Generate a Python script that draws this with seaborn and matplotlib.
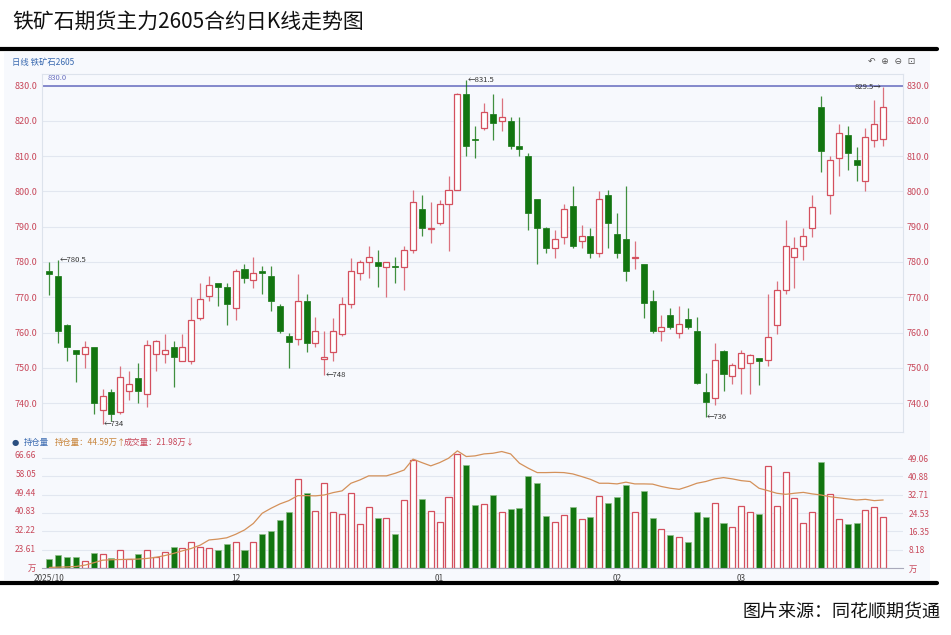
import matplotlib
matplotlib.use("Agg")
import matplotlib.pyplot as plt
import seaborn as sns
import numpy as np
import pandas as pd

sns.set_style("white")
plt.rcParams['font.family'] = ['Noto Sans CJK SC', 'DejaVu Sans']

opens = [777.5,776,762,755,754,756,738,743,737.5,743.5,747,742.5,754,754,756,752,752,764,770.5,774,
         773,767,778,775,777.5,776,767.5,759,758.3,769,757,752.5,754.5,759.5,768,777,780,780,778.5,779,
         778.5,783.5,795,789.3,791,796.5,800.5,827.5,814.7,818,822,820,820,813,810,798,789.5,784,787,796,
         786,787.5,782.5,799,788,786.5,781,779.5,769,760.5,765,760,763.7,760.5,743,741.3,754.8,747.8,750,751.5,
         752.8,752.3,762,772,781.5,784.5,789.5,824,799,809.5,816,809,803,814.5,815]
closes = [776.5,760.4,755.9,753.8,756,740,742,737,747.5,745.5,743.5,756.5,757.5,755,753,756,763.5,769.5,773.5,773,
          768,777.5,775.5,777,777,769,760.3,757.3,769,757,760.5,753,760.5,768,777.5,780,781.5,779,780,778.5,
          783.5,797,789.5,789.5,796.5,800.5,827.5,813,814.5,822.5,819.5,821,813,812,794,789.5,784,786.5,795,784.5,
          787.5,782.5,798,791,782.5,777.5,781.5,768.5,760.5,761.5,761.5,762.5,761.7,745.8,740.3,752.3,748.3,750.8,754.3,753.5,
          751.8,758.8,772,784.5,784,787.5,795.5,811.5,809,816.5,811,807.5,815.5,819,824]
highs = [780,780.5,762.5,755,757.5,756,744,744,750.5,749,751.5,758,758,759.5,757.5,759.5,770,774,776,774,
         774,778,779.5,781.5,779,779,768,760,776.5,771,764.5,760.5,764,770,781,780.5,784.5,783.5,780,781.5,
         784.5,800.5,799,797,797.5,804.5,828,831.5,818.5,825,827.5,826.5,821,821,811,798,790,789,796.5,801.5,
         790.5,789.5,800,800.5,794,801.5,786,779.5,772,765,767,767.5,767,764.5,748.5,757,755,751.5,755,754,
         752.8,771,774.5,792,787,789.5,799,827,810,819,818.5,812.5,818,826,829.5]
lows = [770.6,757,752,746,750,737,734,735,737,741,740,739,749,751.5,744.5,752,751,763.5,769,767.5,
        762,763.5,774,772.5,771,766,760,750,756.5,754.5,756,748,752,759,767,775,775.5,773,770,774,
        772,782.5,787.5,785.5,790.5,783,800.5,810,809.5,817.5,814.5,817,812,810,789,779.5,782.5,781,785,784,
        784,781,781.5,784,781,774.5,778,764,760,757.5,761,758.5,761,745.5,736,739.5,743.5,745.5,742.5,742.5,
        745,750.5,759.5,771,772.5,780.5,787,805.5,793.5,804.5,806,803,800,812.5,813]
volume = [3.8,6.0,5.0,4.7,3.2,6.7,6.4,4.5,8.2,3.8,6.3,8.2,5.1,7.0,9.6,8.9,11.5,9.6,8.9,7.9,
          10.9,11.5,7.9,11.7,15.3,16.6,21.3,25.0,39.7,33.7,25.3,38.1,25.0,23.9,33.6,19.6,27.4,22.3,22.3,15.2,
          30.5,48.3,31.0,25.4,20.4,31.8,50.9,46.1,28.2,28.5,32.6,24.8,26.3,26.6,41.3,38.0,23.4,20.4,23.6,27.3,
          21.9,22.6,32.0,28.9,31.7,37.1,25.0,34.6,22.3,17.4,14.9,13.9,11.5,25.0,22.9,28.9,19.9,18.2,27.9,25.0,
          24.1,45.4,27.6,42.8,31.1,20.1,25.0,47.2,33.1,21.8,19.6,20.1,25.7,27.3,22.9]
open_interest = [14.85,15.0,15.1,15.3,15.9,17.0,18.2,18.4,18.5,18.6,18.7,19.0,19.5,20.3,21.3,22.5,23.6,25.1,27.5,27.9,
                 28.5,30.1,32.1,35.1,39.8,42.1,44.1,45.6,47.9,47.9,47.8,48.2,49.3,50.1,53.6,55.1,57.0,57.0,57.0,58.2,
                 59.7,64.7,63.1,61.6,63.1,65.1,68.5,65.9,66.2,67.1,67.4,68.2,67.1,62.8,60.5,58.5,58.5,58.6,58.5,57.9,
                 56.7,55.4,53.6,53.6,53.3,54.1,53.3,53.3,53.2,52.1,51.3,50.8,52.1,53.6,54.4,55.6,56.2,55.6,54.8,54.4,
                 51.3,50.2,49.0,48.5,49.0,49.4,48.7,48.2,47.4,46.9,46.4,45.9,46.2,45.6,45.9]
month_ticks = [0, 21, 44, 64, 78]
month_labels = ["2025/10", "12", "01", "02", "03"]
price_ticks = [740, 750, 760, 770, 780, 790, 800, 810, 820, 830]
oi_ticks = [23.61, 32.22, 40.83, 49.44, 58.05, 66.66]
vol_ticks = [8.18, 16.35, 24.53, 32.71, 40.88, 49.06]

df = pd.DataFrame({"i": np.arange(len(opens)), "o": opens, "c": closes, "h": highs, "l": lows,
                   "v": volume, "oi": open_interest})
df["up"] = df["c"] >= df["o"]

RED = "#d4505e"
GREEN = "#127510"
BG = "#f7f9fd"
GRID = "#e2e7f0"
TICK = "#c8485a"

W, H = 951, 635
fig = plt.figure(figsize=(W/100, H/100), dpi=100)
def rect(l, t, r, b):
    return [l/W, 1-b/H, (r-l)/W, (b-t)/H]

fig.text(12/W, 1-22/H, "铁矿石期货主力2605合约日K线走势图", fontsize=15, va="center", ha="left", color="#111")
fig.add_artist(plt.Line2D([0, 937/W], [1-49/H, 1-49/H], color="black", lw=3))
fig.add_artist(plt.Line2D([0, 937/W], [1-583/H, 1-583/H], color="black", lw=3))
fig.text(940/W, 1-612/H, "图片来源：同花顺期货通", fontsize=13, va="center", ha="right", color="#111")
bgax = fig.add_axes(rect(4, 52, 930, 580))
bgax.set_facecolor(BG); bgax.set_xticks([]); bgax.set_yticks([])
for s in bgax.spines.values(): s.set_visible(False)
fig.text(12/W, 1-62/H, "日线 铁矿石2605", fontsize=6, color="#3a6ab0", va="center")
fig.text(915/W, 1-62/H, "↶  ⊕  ⊖  ⊡", fontsize=6.5, color="#555", va="center", ha="right",
         family=['DejaVu Sans'])

xlim = (-0.86, 96.2)
ax = fig.add_axes(rect(41.7, 74, 902.7, 432))
ax.set_facecolor(BG)
ax.set_xlim(*xlim)
ax.set_ylim(731.8, 833.3)
ax.set_yticks(price_ticks)
ax.set_yticklabels([f"{t:.1f}" for t in price_ticks])
ax.tick_params(axis="y", labelsize=6.5, colors=TICK, length=0, labelleft=True, labelright=True, pad=3)
ax.set_xticks([])
ax.grid(axis="y", color=GRID, lw=0.8)
for s in ax.spines.values(): s.set_color("#dde3ec"); s.set_linewidth(0.8)
ax.axhline(830, color="#7b80c8", lw=1.3)
ax.text(-0.2, 831.0, "830.0", fontsize=5.5, color="#6a70c0", va="bottom")

wid = 0.68
for _, r in df.iterrows():
    col = RED if r.up else GREEN
    lo_b, hi_b = min(r.o, r.c), max(r.o, r.c)
    ax.vlines(r.i, r.l, lo_b, color=col, lw=0.9, alpha=0.8)
    ax.vlines(r.i, hi_b, r.h, color=col, lw=0.9, alpha=0.8)
    hgt = max(hi_b - lo_b, 0.35)
    if r.up:
        ax.bar(r.i, hgt, bottom=lo_b, width=wid, facecolor="white", edgecolor=RED, lw=0.9)
    else:
        ax.bar(r.i, hgt, bottom=lo_b, width=wid, facecolor=GREEN, edgecolor=GREEN, lw=0.5)

def mark(i, val, text, side="right"):
    if side == "right":
        ax.text(i + 0.15, val, "←" + text, fontsize=5.5, color="#333", va="center", ha="left")
    else:
        ax.text(i - 0.15, val, text + "→", fontsize=5.5, color="#333", va="center", ha="right")
mark(1, 780.5, "780.5")
mark(6, 734, "734")
mark(31, 748, "748")
mark(47, 831.5, "831.5")
mark(74, 736, "736")
mark(94, 829.5, "829.5", side="left")

fig.text(12/W, 1-442/H, "●", fontsize=6, color="#2a4f80", va="center", family=['DejaVu Sans'])
fig.text(24/W, 1-442/H, "持仓量", fontsize=6, color="#3a6ab0", va="center")
fig.text(55/W, 1-442/H, "持仓量：44.59万↑", fontsize=6, color="#c8843a", va="center")
fig.text(124/W, 1-442/H, "成交量：21.98万↓", fontsize=6, color="#c8485a", va="center")

vax = fig.add_axes(rect(41.7, 450, 902.7, 568))
vax.set_facecolor(BG)
vax.set_xlim(*xlim)
vax.set_ylim(0, 52.7)
for _, r in df.iterrows():
    if r.up:
        vax.bar(r.i, r.v, width=wid, facecolor="white", edgecolor=RED, lw=0.9)
    else:
        vax.bar(r.i, r.v, width=wid, facecolor=GREEN, edgecolor="#8fc08a", lw=0.5)
vax.grid(axis="y", color=GRID, lw=0.8)
vax.set_xticks(month_ticks)
vax.set_xticklabels(month_labels)
vax.tick_params(axis="x", labelsize=6, colors="#444", length=3, color="#999", pad=1)
for s in vax.spines.values(): s.set_visible(False)
vax.spines["bottom"].set_visible(True); vax.spines["bottom"].set_color("#aab")

oax = vax.twinx()
oax.set_ylim(14.6, 68.9)
sns.lineplot(data=df, x="i", y="oi", ax=oax, color="#d4915a", lw=0.9)
oax.set_xlim(*xlim)
oax.set_xlabel(""); oax.set_ylabel("")
for s in oax.spines.values(): s.set_visible(False)
oax.yaxis.tick_left()
oax.set_yticks([15.0] + oi_ticks)
oax.set_yticklabels(["万"] + [f"{t:.2f}" for t in oi_ticks])
oax.tick_params(axis="y", labelsize=6, colors=TICK, length=0, pad=4)

vax.yaxis.tick_right()
vax.set_yticks([0] + vol_ticks)
vax.set_yticklabels(["万"] + [f"{t:.2f}" for t in vol_ticks])
vax.tick_params(axis="y", labelsize=6, colors=TICK, length=0, pad=4, labelleft=False, labelright=True)

fig.savefig("out.png", dpi=100)
